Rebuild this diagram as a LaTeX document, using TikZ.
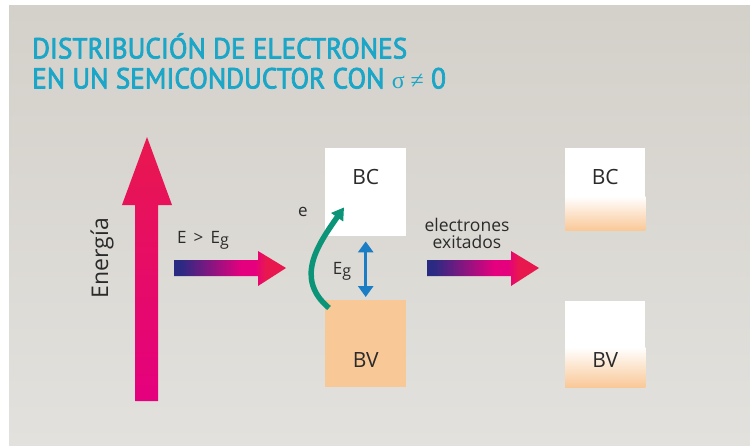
\documentclass[tikz,border=0pt]{standalone}
\usepackage{fontspec}
\setmainfont{Open Sans}
\newfontfamily\titlefont{PT Sans}[FakeStretch=0.94, FakeBold=2.5]
\newfontfamily\greekfont{Liberation Serif}
\usetikzlibrary{arrows.meta}
\definecolor{bgtop}{HTML}{D4D0CA}
\definecolor{bgbot}{HTML}{E2E1DD}
\definecolor{titlecyan}{HTML}{1BA6C8}
\definecolor{peach}{HTML}{F9C897}
\definecolor{crimson}{HTML}{E8184F}
\definecolor{magenta}{HTML}{E5007E}
\definecolor{navy}{HTML}{2B2A83}
\definecolor{teal}{HTML}{0C9479}
\definecolor{gapblue}{HTML}{1B7DC3}
\definecolor{ink}{HTML}{2B2B2B}
\pgfdeclarehorizontalshading{fatshade}{100bp}{color(0bp)=(navy); color(28bp)=(navy);
  color(55bp)=(magenta); color(61bp)=(magenta); color(66bp)=(crimson); color(100bp)=(crimson)}
\tikzset{
  band/.style={inner sep=0pt, anchor=north west, minimum width=81pt},
  lbl/.style={text=ink, inner sep=0pt, font=\fontsize{21}{22}\selectfont},
  small/.style={text=ink, inner sep=0pt, font=\fontsize{17}{17}\selectfont},
  fatgrad/.style={shading=fatshade}
}
\newcommand{\Eg}{E\raisebox{-0.25ex}{\fontsize{16}{16}\selectfont g}}
\begin{document}
\begin{tikzpicture}[x=1pt, y=1pt, line cap=round, line join=round, >=Triangle]
  \useasboundingbox (0,0) rectangle (750,-445);
  \fill[white] (0,0) rectangle (750,-445);
  \shade[top color=bgtop, bottom color=bgbot] (9,-5) rectangle (750,-445);

  \node[anchor=north west, inner sep=0pt, align=left, text=titlecyan,
    font=\titlefont\fontsize{29}{30}\selectfont] (ttl) at (32,-33)
    {DISTRIBUCIÓN DE ELECTRONES\\EN UN SEMICONDUCTOR CON {\greekfont\fontsize{24}{24}\selectfont σ ≠} 0};

  \shade[top color=crimson, bottom color=magenta]
    (135,-401) -- (135,-205) -- (122,-205) -- (147,-137)
    -- (172,-205) -- (158,-205) -- (158,-401) -- cycle;
  \node[small, font=\fontsize{23}{23}\selectfont, rotate=90] (en) at (102,-258) {Energía};

  \foreach \x in {174,427} {
    \shade[fatgrad] (\x,-260) -- (\x+84,-260) -- (\x+84,-251) -- (\x+112,-268)
      -- (\x+84,-286) -- (\x+84,-276) -- (\x,-276) -- cycle;
  }
  \node[small] (eeg) at (203,-240) {E\, >\, \Eg};
  \node[small, align=center, font=\fontsize{17.5}{17}\selectfont] (exc) at (467,-233)
    {electrones\\exitados};

  \node[band, fill=white, minimum height=88pt] (bc1) at (325,-148) {};
  \node[band, fill=peach, minimum height=87pt] (bv1) at (325,-300) {};
  \node[band, fill=white, minimum width=80pt, minimum height=82pt] (bc2) at (565,-148) {};
  \node[band, fill=white, minimum width=80pt, minimum height=86pt] (bv2) at (565,-301) {};
  \shade[top color=white, bottom color=peach] ([yshift=34pt]bc2.south west) rectangle (bc2.south east);
  \shade[top color=white, bottom color=peach] ([yshift=40pt]bv2.south west) rectangle (bv2.south east);

  \foreach \b in {bc1,bc2} {
    \node[lbl] at ([yshift=-29pt]\b.north) {BC};
  }
  \foreach \b in {bv1,bv2} {
    \node[lbl] at ([yshift=27pt]\b.south) {BV};
  }

  \coordinate (es) at ([shift={(4,-8)}]bv1.north west);
  \coordinate (et) at ([shift={(19,29)}]bc1.south west);
  \draw[teal, line width=5.5pt, line cap=butt, -{Triangle[length=12pt,width=14pt]}]
    (es) to[out=140, in=235, looseness=1.15] (et);
  \node[small] (e) at (303,-212) {e};

  \draw[gapblue, line width=3pt, line cap=butt, {Triangle[length=11pt,width=15pt]}-{Triangle[length=11pt,width=15pt]},
    shorten <=5pt, shorten >=3pt] (bc1.south) -- (bv1.north);
  \node[small] (eg) at (342,-271) {\Eg};
\end{tikzpicture}
\end{document}
